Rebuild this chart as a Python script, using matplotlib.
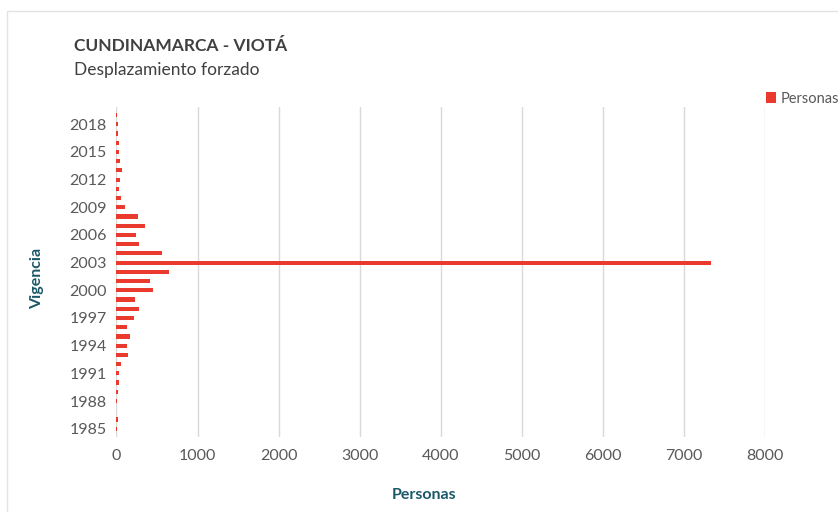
import numpy as np
import matplotlib.pyplot as plt
from matplotlib.patches import Rectangle

plt.rcParams['font.family'] = ['Lato', 'DejaVu Sans']

# datos
anios = list(range(1985, 2020))
personas = [5, 20, 0, 2, 16, 28, 28, 57, 139, 127,
            171, 130, 217, 277, 229, 449, 412, 653, 7333, 562,
            273, 236, 346, 269, 110, 57, 28, 45, 65, 41,
            37, 28, 16, 20, 8]
etiquetas_y = [str(a) for a in range(1985, 2019, 3)]
ticks_x = list(range(0, 9000, 1000))

rojo = '#EA3A2E'
gris = '#595959'
verde = '#1B5868'

fig = plt.figure(figsize=(8.38, 5.12), dpi=100)
fig.patches.append(Rectangle((7/838, -0.1), 1.2, 1-11/512+0.1, transform=fig.transFigure,
                             fill=False, edgecolor='#E3E3E3', linewidth=1))

ax = fig.add_axes([0.139, 0.1465, 0.774, 0.645])
pos = np.arange(len(anios))
ax.barh(pos, personas, height=0.45, color=rojo, label='Personas', zorder=3)

ax.set_xlim(0, 8000)
ax.set_ylim(-0.9, len(anios) - 0.1)
ax.set_xticks(ticks_x)
ax.set_xticklabels([str(t) for t in ticks_x], color=gris, fontsize=11.5)
ax.set_yticks([anios.index(int(e)) for e in etiquetas_y])
ax.set_yticklabels(etiquetas_y, color=gris, fontsize=11.5)
ax.tick_params(length=0, pad=7)
ax.tick_params(axis='x', pad=9)
ax.grid(axis='x', color='#D9D9D9', linewidth=1, zorder=0)
for s in ax.spines.values():
    s.set_visible(False)

fig.text(424/838, 1-495/512, 'Personas', color=verde, fontsize=11.5, fontweight='bold',
         ha='center', va='center')
fig.text(37/838, 1-278/512, 'Vigencia', color=verde, fontsize=11.5, fontweight='bold',
         ha='center', va='center', rotation=90)

fig.text(74/838, 1-46/512, 'CUNDINAMARCA - VIOTÁ', fontsize=12.5, fontweight='bold',
         color='#404040', va='center')
fig.text(74/838, 1-70/512, 'Desplazamiento forzado', fontsize=12.5, color='#404040', va='center')

ax.legend(loc='upper left', bbox_to_anchor=(0.997, 1.055), frameon=False, fontsize=10.5,
          handlelength=0.7, handleheight=0.7, handletextpad=0.3, labelcolor=gris,
          borderaxespad=0, borderpad=0.2)

fig.savefig('out.png', dpi=100)
